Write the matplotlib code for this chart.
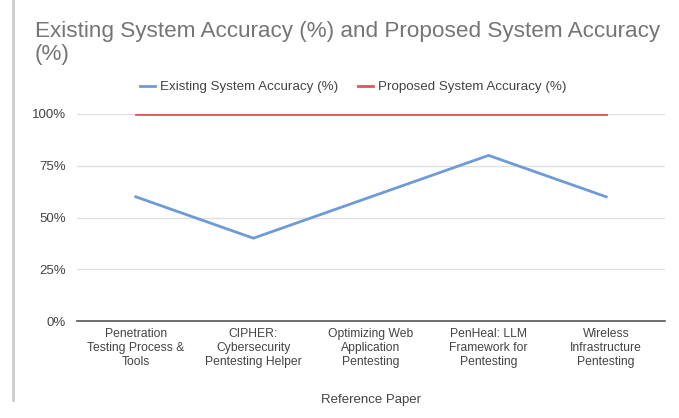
import matplotlib
matplotlib.use("Agg")
import matplotlib.pyplot as plt
from matplotlib.lines import Line2D
from matplotlib.ticker import FuncFormatter

plt.rcParams['font.family'] = ['Liberation Sans', 'DejaVu Sans']

categories = ["Penetration\nTesting Process &\nTools",
              "CIPHER:\nCybersecurity\nPentesting Helper",
              "Optimizing Web\nApplication\nPentesting",
              "PenHeal: LLM\nFramework for\nPentesting",
              "Wireless\nInfrastructure\nPentesting"]
existing = [60, 40, 60, 80, 60]
proposed = [100, 100, 100, 100, 100]
yticks = [0, 25, 50, 75, 100]

W, H = 679, 418
fig = plt.figure(figsize=(W/100, H/100), dpi=100)
ax = fig.add_axes([77/W, 1-321/H, (665-77)/W, (321-114)/H])

x = list(range(len(categories)))
ax.plot(x, existing, color='#6f9ad8', lw=2, label='Existing System Accuracy (%)')
ax.plot(x, proposed, color='#d9595a', lw=2, label='Proposed System Accuracy (%)')
ax.set_xlim(-0.5, len(categories)-0.5)
ax.set_ylim(0, 100)
ax.set_yticks(yticks)
ax.yaxis.set_major_formatter(FuncFormatter(lambda v, p: f"{int(v)}%"))
ax.grid(axis='y', color='#e0e0e0', lw=1)
ax.set_axisbelow(True)
for s in ['top', 'right', 'left']:
    ax.spines[s].set_visible(False)
ax.spines['bottom'].set_color('#555555')
ax.spines['bottom'].set_linewidth(1.2)
ax.set_xticks(x)
ax.set_xticklabels(categories, fontsize=8.7, color='#444444', linespacing=1.2)
ax.tick_params(axis='x', length=0, pad=5)
ax.tick_params(axis='y', length=0, pad=8, labelsize=9.5, labelcolor='#444444')
ax.set_xlabel('Reference Paper', fontsize=9.5, color='#444444', labelpad=19)

fig.text(35/W, 1-21/H, "Existing System Accuracy (%) and Proposed System Accuracy\n(%)",
         fontsize=16.2, color='#757575', va='top', ha='left', linespacing=1.15)

ax.legend(loc='center', bbox_to_anchor=(0.5 - 0.03, 1 + (114-87)/(321-114)),
          ncol=2, frameon=False, fontsize=9.6, handlelength=1.1, handletextpad=0.4,
          columnspacing=1.5, labelcolor='#444444')

fig.add_artist(Line2D([13/W, 13/W], [1-400/H, 1.0], color='#cccccc', lw=2))
fig.savefig('out.png', dpi=100, facecolor='white')
